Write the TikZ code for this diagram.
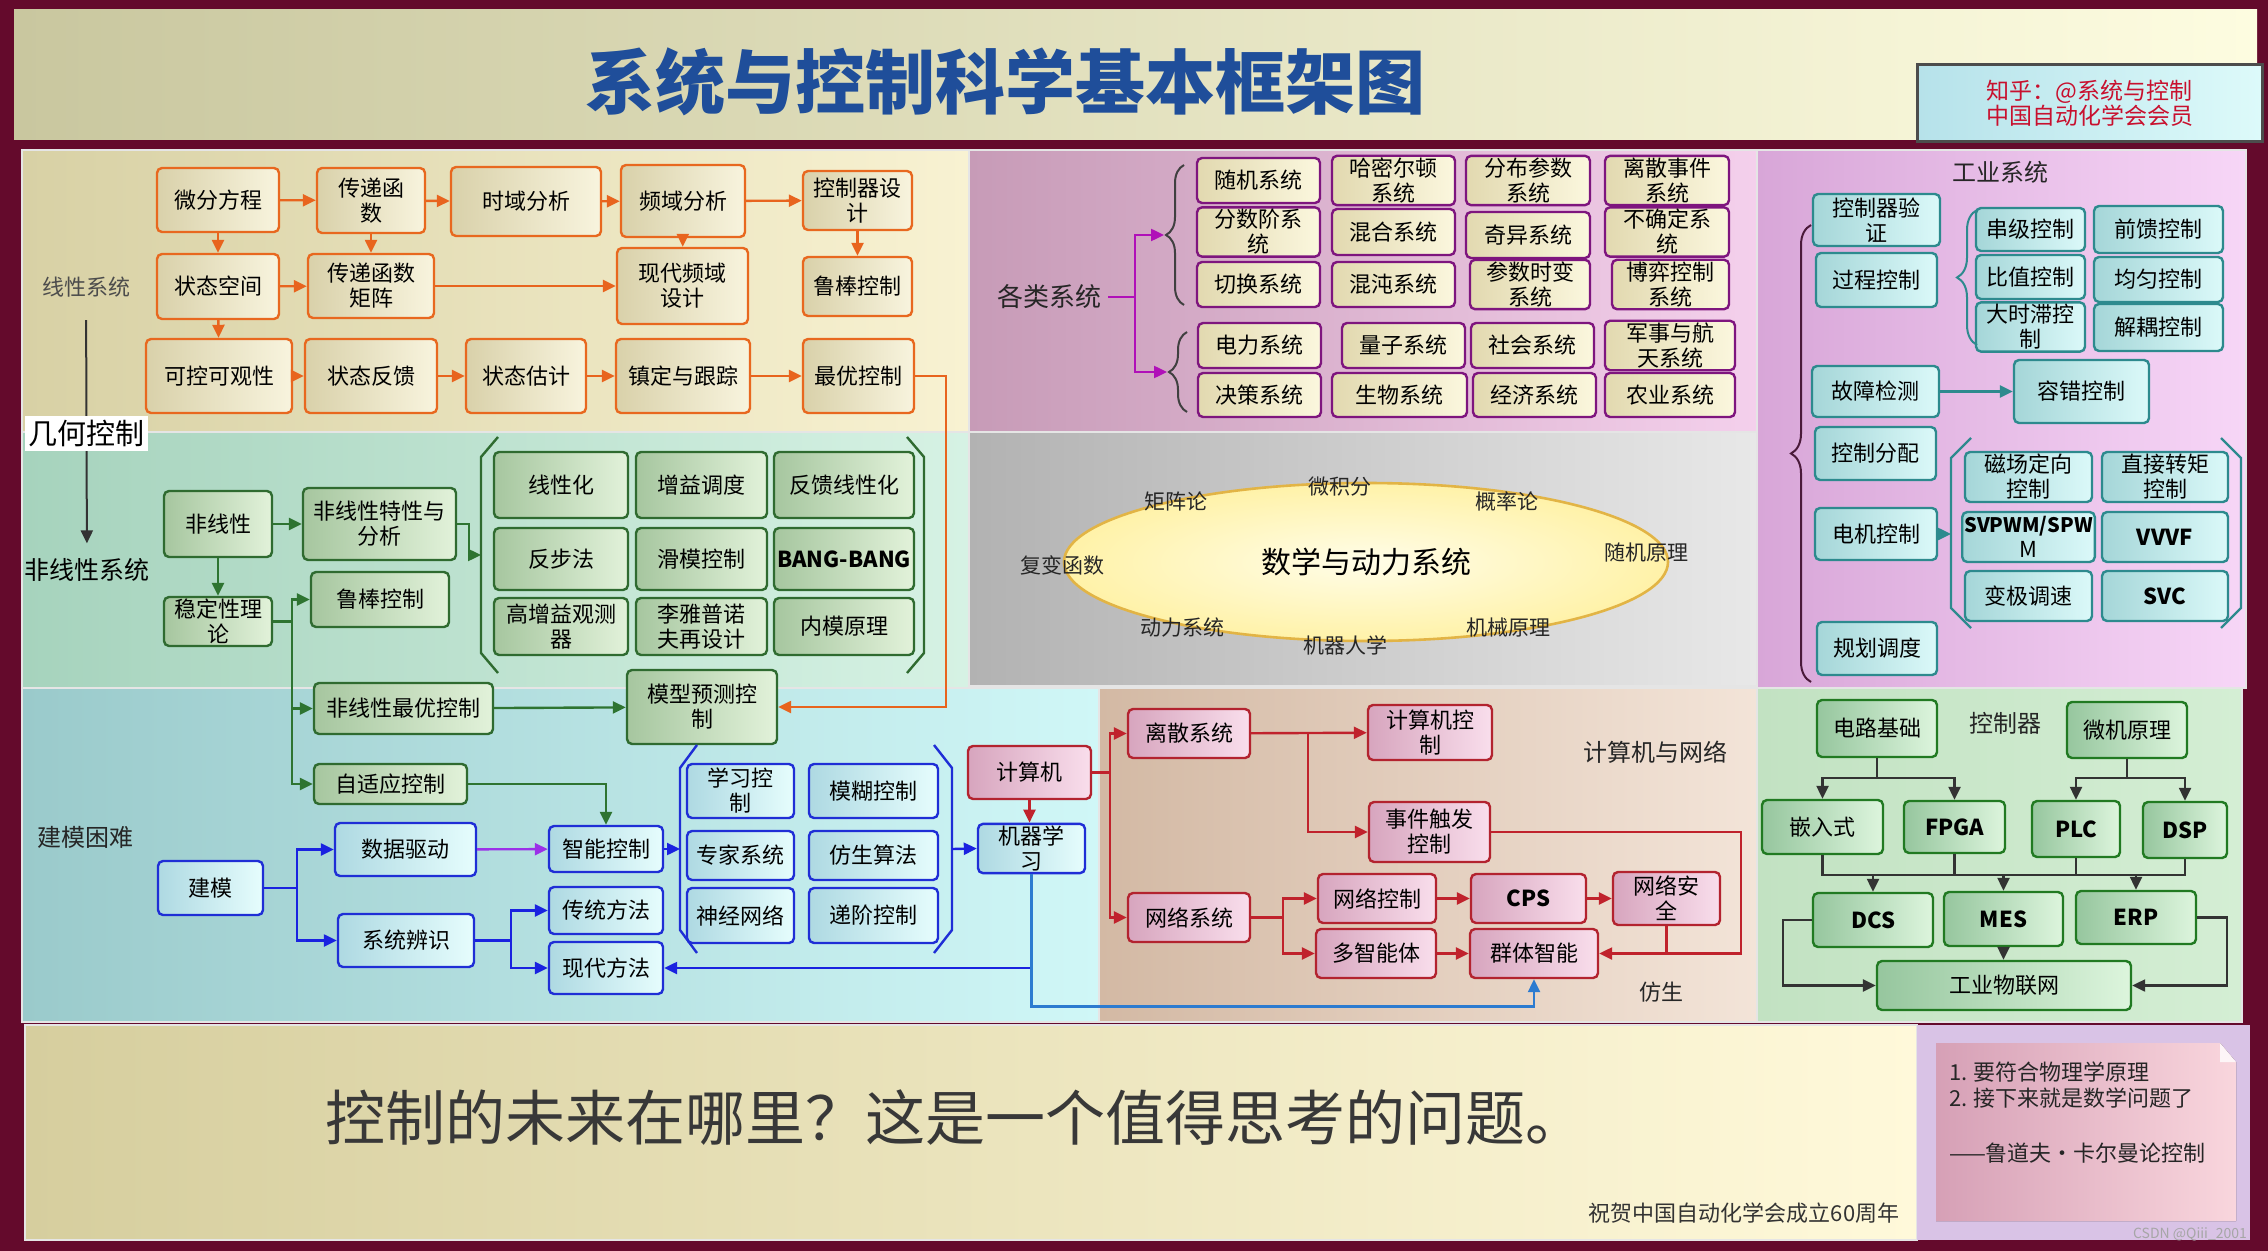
\documentclass[tikz,border=0pt]{standalone}
\usepackage{fontspec}
\setmainfont{Noto Sans CJK SC}
\usetikzlibrary{arrows.meta,shapes.geometric,decorations.pathreplacing}

\definecolor{frameRed}{HTML}{640A2C}
\definecolor{ttL}{HTML}{C9C79F}
\definecolor{ttR}{HTML}{FDFCE0}
\definecolor{titleBlue}{HTML}{1F4E9A}
\definecolor{bdL}{HTML}{B6E2EA}
\definecolor{bdR}{HTML}{DDFAFA}
\definecolor{badgeRed}{HTML}{C8102E}
\definecolor{linL}{HTML}{D8D1A5}
\definecolor{linR}{HTML}{F8F2D2}
\definecolor{nlL}{HTML}{A6D3BD}
\definecolor{nlR}{HTML}{D6F2E4}
\definecolor{mdL}{HTML}{9ACACB}
\definecolor{mdR}{HTML}{D0F7F7}
\definecolor{tyL}{HTML}{C79BB7}
\definecolor{tyR}{HTML}{F4D0EC}
\definecolor{maL}{HTML}{B2B2B2}
\definecolor{maR}{HTML}{E8E8E8}
\definecolor{cnL}{HTML}{D3B9A4}
\definecolor{cnR}{HTML}{F3E4D8}
\definecolor{inL}{HTML}{D8A6D8}
\definecolor{inR}{HTML}{F7D6F7}
\definecolor{ctL}{HTML}{C2E2C2}
\definecolor{ctR}{HTML}{D4EED4}
\definecolor{btL}{HTML}{D6CE9E}
\definecolor{btR}{HTML}{FFF9DA}
\definecolor{lav}{HTML}{D9C3E6}
\definecolor{noteL}{HTML}{D6A0B6}
\definecolor{noteR}{HTML}{F9D6DD}
\definecolor{oDraw}{HTML}{E8681F}
\definecolor{oL}{HTML}{D9D1AA}
\definecolor{oR}{HTML}{F8F4DE}
\definecolor{gDraw}{HTML}{2F6B30}
\definecolor{gL}{HTML}{A6C69F}
\definecolor{gR}{HTML}{E2F2DA}
\definecolor{bDraw}{HTML}{1F2ED6}
\definecolor{bL}{HTML}{AED9E2}
\definecolor{bR}{HTML}{E6FDFD}
\definecolor{pDraw}{HTML}{7E157E}
\definecolor{pL}{HTML}{E2D9B0}
\definecolor{pR}{HTML}{FBF7DE}
\definecolor{rDraw}{HTML}{B3232F}
\definecolor{rL}{HTML}{D7A5BE}
\definecolor{rR}{HTML}{F9DEEC}
\definecolor{tDraw}{HTML}{2D8A8E}
\definecolor{tL}{HTML}{A5D6D8}
\definecolor{tR}{HTML}{DBF9F9}
\definecolor{cDraw}{HTML}{217A22}
\definecolor{cL}{HTML}{96C69E}
\definecolor{cR}{HTML}{DDF5DD}
\definecolor{oArr}{HTML}{E8641E}
\definecolor{gArr}{HTML}{2E7431}
\definecolor{bArr}{HTML}{1A22E0}
\definecolor{pArr}{HTML}{B010B8}
\definecolor{vArr}{HTML}{9B30E8}
\definecolor{rArr}{HTML}{C0222C}
\definecolor{lbArr}{HTML}{2C7BD0}
\definecolor{kArr}{HTML}{333333}
\definecolor{elDraw}{HTML}{E2B445}
\definecolor{elIn}{HTML}{FFFDE8}
\definecolor{elOut}{HTML}{FFF2A8}
\definecolor{braceInd}{HTML}{4A1A3A}

\newcommand{\bxfont}{\fontsize{11}{12.5}\selectfont}
\newcommand{\placebox}[7]{\node[#1, minimum width={(#5-#3)*0.5pt}, minimum height={(#6-#4)*0.5pt}] (#2) at ({(#3+#5)/2},{(#4+#6)/2}) {#7};}

\begin{document}
\begin{tikzpicture}[x=0.5pt, y=-0.5pt,
    bx/.style={rectangle, rounded corners=2.5pt, line width=1.2pt, align=center, inner sep=1pt, font=\bxfont},
    obox/.style={bx, draw=oDraw, left color=oL, right color=oR},
    gbox/.style={bx, draw=gDraw, left color=gL, right color=gR},
    bbox/.style={bx, draw=bDraw, left color=bL, right color=bR},
    pbox/.style={bx, draw=pDraw, left color=pL, right color=pR},
    rbox/.style={bx, draw=rDraw, left color=rL, right color=rR},
    tbox/.style={bx, draw=tDraw, left color=tL, right color=tR},
    cbox/.style={bx, draw=cDraw, left color=cL, right color=cR},
    badge/.style={rectangle, draw=black!70, line width=1.5pt, left color=bdL, right color=bdR, align=center, text=badgeRed, font=\fontsize{11.5}{12.5}\selectfont},
    region/.style={draw=white!90!black, line width=1pt},
    lbl/.style={font=\fontsize{12}{14}\selectfont, text=black!85},
    mlbl/.style={font=\fontsize{10.5}{12}\selectfont, text=black!85},
    arr/.style={line width=1.2pt, -{Triangle[length=6.5pt,width=6pt]}},
    oarr/.style={arr, color=oArr},
    garr/.style={arr, color=gArr},
    barr/.style={arr, color=bArr},
    parr/.style={arr, color=pArr},
    varr/.style={arr, color=vArr},
    rarr/.style={arr, color=rArr},
    lbarr/.style={arr, color=lbArr},
    tarr/.style={arr, color=tDraw},
    karr/.style={arr, color=kArr},
    rline/.style={line width=1.2pt, color=rArr},
    kline/.style={line width=1.2pt, color=kArr},
    gbrk/.style={line width=1.2pt, color=gDraw},
    bbrk/.style={line width=1.2pt, color=bDraw},
    tbrk/.style={line width=1.2pt, color=tDraw},
    brc/.style={decorate, line width=1pt}
]
    \useasboundingbox (0,0) rectangle (2268,1251);
    \fill[frameRed] (0,0) rectangle (2268,1251);
    \shade[left color=ttL, right color=ttR] (14,10) rectangle (2257,140);

    \shadedraw[region, left color=linL, right color=linR] (22,150) rectangle (969,432);
    \shadedraw[region, left color=nlL, right color=nlR] (22,432) rectangle (969,688);
    \shadedraw[region, left color=mdL, right color=mdR] (22,688) rectangle (1099,1022);
    \shadedraw[region, left color=tyL, right color=tyR] (969,150) rectangle (1757,432);
    \shadedraw[region, left color=maL, right color=maR] (969,432) rectangle (1757,686);
    \shadedraw[region, left color=cnL, right color=cnR] (1099,688) rectangle (1757,1022);
    \shadedraw[region, left color=inL, right color=inR] (1757,150) rectangle (2246,688);
    \shadedraw[region, left color=ctL, right color=ctR] (1757,688) rectangle (2242,1022);
    \shadedraw[region, left color=btL, right color=btR] (25,1025) rectangle (1917,1240);
    \fill[lav] (1917,1025) rectangle (2250,1240);
    \fill[left color=noteL, right color=noteR] (1936,1043) -- (2220,1043) -- (2236,1062) -- (2236,1221) -- (1936,1221) -- cycle;
    \fill[white!75!noteR] (2220,1043) -- (2236,1062) -- (2220,1062) -- cycle;

    \node[font=\fontsize{35}{40}\selectfont\bfseries, text=titleBlue] (title) at (1005,82) {系统与控制科学基本框架图};
    \placebox{badge}{zhihu}{1917}{65}{2262}{142}{知乎：@系统与控制\\中国自动化学会会员}

    \node[lbl, font=\fontsize{11}{13}\selectfont, text=black!70] (linlbl) at (86,287) {线性系统};
    \node[lbl, font=\fontsize{12.5}{14}\selectfont, text=black] (nllbl) at (87,570) {非线性系统};
    \draw[karr, line width=1pt, shorten <=8pt, shorten >=4pt] (linlbl) -- (nllbl);
    \node[fill=white, font=\fontsize{14.5}{16}\selectfont, inner sep=1pt, minimum width=61.5pt, minimum height=17.5pt] (jhkz) at (86.5,433.5) {几何控制};
    \node[lbl] (mdlbl) at (85,837) {建模困难};
    \node[lbl, font=\fontsize{13}{15}\selectfont] (tylbl) at (1049,297) {各类系统};
    \node[lbl] (inlbl) at (2000,172) {工业系统};
    \node[lbl] (cnlbl) at (1655,752) {计算机与网络};
    \node[lbl, font=\fontsize{11}{13}\selectfont] (fslbl) at (1661,992) {仿生};
    \node[lbl] (ctlbl) at (2005,723) {控制器};

    \placebox{obox}{wffc}{157}{168}{279}{232}{微分方程}
    \placebox{obox}{cdhs}{317}{168}{425}{233}{传递函\\数}
    \placebox{obox}{syfx}{451}{167}{601}{236}{时域分析}
    \placebox{obox}{pyfx}{621}{165}{745}{237}{频域分析}
    \placebox{obox}{kzqs}{803}{171}{912}{230}{控制器设\\计}
    \placebox{obox}{ztkj}{157}{254}{279}{319}{状态空间}
    \placebox{obox}{cdjz}{308}{254}{434}{318}{传递函数\\矩阵}
    \placebox{obox}{xdpy}{617}{248}{748}{324}{现代频域\\设计}
    \placebox{obox}{lbkz}{803}{257}{912}{316}{鲁棒控制}
    \placebox{obox}{kkgc}{146}{339}{292}{413}{可控可观性}
    \placebox{obox}{ztfk}{305}{339}{437}{413}{状态反馈}
    \placebox{obox}{ztgj}{466}{339}{586}{413}{状态估计}
    \placebox{obox}{zdgz}{616}{339}{750}{413}{镇定与跟踪}
    \placebox{obox}{zykz}{803}{339}{914}{413}{最优控制}

    \draw[oarr] (wffc) -- (cdhs);
    \draw[oarr] (cdhs) -- (syfx);
    \draw[oarr] (syfx) -- (pyfx);
    \draw[oarr] (pyfx) -- (kzqs);
    \draw[oarr] (wffc) -- (ztkj);
    \draw[oarr] (cdhs) -- (cdjz);
    \draw[oarr] (pyfx) -- (xdpy);
    \draw[oarr] (kzqs) -- (lbkz);
    \draw[oarr] (ztkj) -- (cdjz);
    \draw[oarr] (cdjz) -- (xdpy);
    \draw[oarr] (ztkj) -- (kkgc);
    \draw[oarr] (kkgc) -- (ztfk);
    \draw[oarr] (ztfk) -- (ztgj);
    \draw[oarr] (ztgj) -- (zdgz);
    \draw[oarr] (zdgz) -- (zykz);

    \placebox{gbox}{fxx}{164}{491}{272}{557}{非线性}
    \placebox{gbox}{fxtx}{303}{488}{456}{560}{非线性特性与\\分析}
    \placebox{gbox}{wdx}{164}{598}{272}{645}{稳定性理\\论}
    \placebox{gbox}{nlbk}{311}{572}{449}{627}{鲁棒控制}
    \placebox{gbox}{xxh}{494}{452}{628}{518}{线性化}
    \placebox{gbox}{zytd}{636}{452}{767}{518}{增益调度}
    \placebox{gbox}{fkxx}{774}{452}{914}{518}{反馈线性化}
    \placebox{gbox}{bbf}{494}{528}{628}{590}{反步法}
    \placebox{gbox}{hmkz}{636}{528}{767}{590}{滑模控制}
    \placebox{gbox}{bang}{774}{528}{914}{590}{\bfseries BANG-BANG}
    \placebox{gbox}{gzgc}{494}{598}{628}{655}{高增益观测\\器}
    \placebox{gbox}{lypn}{636}{598}{767}{655}{李雅普诺\\夫再设计}
    \placebox{gbox}{nmyl}{774}{598}{914}{655}{内模原理}
    \placebox{gbox}{fzyk}{314}{683}{493}{734}{非线性最优控制}
    \placebox{gbox}{mxyc}{627}{670}{777}{744}{模型预测控\\制}
    \placebox{gbox}{zsyk}{314}{764}{467}{804}{自适应控制}

    \draw[gbrk] (498,437) -- (481,457) -- (481,653) -- (498,673);
    \draw[gbrk] (907,437) -- (924,457) -- (924,653) -- (907,673);
    \coordinate (nbrk) at (481,555);
    \coordinate (gj) at (292,621.5);

    \draw[garr] (fxx) -- (fxtx);
    \draw[garr] (fxx) -- (wdx);
    \draw[garr] (fxtx.east) -- ++(12,0) |- (nbrk);
    \draw[garr] (wdx.east) -- (gj) |- (nlbk.west);
    \draw[garr] (gj) |- (fzyk.west);
    \draw[garr] (gj) |- (zsyk.west);
    \draw[garr] (fzyk) -- (mxyc);
    \draw[oarr] (zykz.east) -- ++(31,0) |- (mxyc.east);

    \placebox{bbox}{jm}{158}{861}{263}{915}{建模}
    \placebox{bbox}{sjqd}{335}{823}{476}{876}{数据驱动}
    \placebox{bbox}{xtbs}{338}{914}{474}{967}{系统辨识}
    \placebox{bbox}{znkz}{549}{826}{663}{872}{智能控制}
    \placebox{bbox}{ctff}{549}{887}{663}{934}{传统方法}
    \placebox{bbox}{xdff}{549}{942}{663}{994}{现代方法}
    \placebox{bbox}{xxkz}{687}{764}{794}{818}{学习控\\制}
    \placebox{bbox}{mhkz}{809}{764}{938}{818}{模糊控制}
    \placebox{bbox}{zjxt}{687}{831}{794}{880}{专家系统}
    \placebox{bbox}{fssf}{809}{831}{938}{880}{仿生算法}
    \placebox{bbox}{sjwl}{687}{888}{794}{943}{神经网络}
    \placebox{bbox}{djkz}{809}{888}{938}{943}{递阶控制}
    \placebox{rbox}{jsj}{968}{746}{1091}{799}{计算机}
    \placebox{bbox}{jqxx}{978}{824}{1085}{873}{机器学\\习}

    \draw[bbrk] (697,745) -- (680,768) -- (680,930) -- (697,953);
    \draw[bbrk] (934,745) -- (952,768) -- (952,930) -- (934,953);
    \coordinate (mbrl) at (680,849);
    \coordinate (mbrr) at (952,849);
    \coordinate (bj1) at (297,888);
    \coordinate (bj2) at (511,940.5);

    \draw[garr] (zsyk.east) -| (znkz.north);
    \draw[barr] (jm.east) -- (bj1) |- (sjqd.west);
    \draw[barr] (bj1) |- (xtbs.west);
    \draw[varr] (sjqd) -- (znkz);
    \draw[barr] (xtbs.east) -- (bj2) |- (ctff.west);
    \draw[barr] (bj2) |- (xdff.west);
    \draw[barr] (znkz.east) -- (mbrl);
    \draw[barr] (mbrr) -- (jqxx.west);
    \draw[rarr] (jsj.south) -- (jsj.south |- jqxx.north);
    \draw[barr] (jqxx.south) |- (xdff.east);

    \placebox{rbox}{lsxt}{1128}{709}{1250}{758}{离散系统}
    \placebox{rbox}{jsjk}{1368}{705}{1492}{760}{计算机控\\制}
    \placebox{rbox}{sjcf}{1369}{802}{1490}{862}{事件触发\\控制}
    \placebox{rbox}{wlxt}{1128}{893}{1250}{942}{网络系统}
    \placebox{rbox}{wlkz}{1318}{874}{1436}{923}{网络控制}
    \placebox{rbox}{cps}{1471}{874}{1586}{923}{\bfseries CPS}
    \placebox{rbox}{wlaq}{1613}{872}{1720}{925}{网络安\\全}
    \placebox{rbox}{dznt}{1316}{929}{1436}{978}{多智能体}
    \placebox{rbox}{qtzn}{1470}{929}{1598}{978}{群体智能}

    \coordinate (rj1) at (1110,772.5);
    \coordinate (rj2) at (1308,733.5);
    \coordinate (rj3) at (1283,917.5);
    \draw[rarr] (jsj.east) -- (rj1) |- (lsxt.west);
    \draw[rarr] (rj1) |- (wlxt.west);
    \draw[rarr] (lsxt) -- (jsjk);
    \draw[rarr] (rj2) |- (sjcf.west);
    \draw[rarr] (sjcf.east) -- ++(250,0) |- (qtzn.east);
    \draw[rline] (wlaq.south) -- (wlaq.south |- qtzn.east);
    \draw[rarr] (wlxt.east) -- (rj3) |- (wlkz.west);
    \draw[rarr] (rj3) |- (dznt.west);
    \draw[rarr] (wlkz) -- (cps);
    \draw[rarr] (cps) -- (wlaq);
    \draw[rarr] (dznt) -- (qtzn);
    \draw[lbarr] (jqxx.south) -- ++(0,132) -| (qtzn.south);

    \placebox{pbox}{sjxt}{1197}{158}{1320}{203}{随机系统}
    \placebox{pbox}{hmde}{1332}{158}{1455}{203}{哈密尔顿\\系统}
    \placebox{pbox}{fbcs}{1466}{158}{1590}{203}{分布参数\\系统}
    \placebox{pbox}{lssj}{1605}{158}{1729}{203}{离散事件\\系统}
    \placebox{pbox}{fsjx}{1197}{209}{1320}{255}{分数阶系\\统}
    \placebox{pbox}{hhxt}{1332}{209}{1455}{255}{混合系统}
    \placebox{pbox}{qyxt}{1466}{212}{1590}{258}{奇异系统}
    \placebox{pbox}{bqdx}{1605}{209}{1729}{255}{不确定系\\统}
    \placebox{pbox}{qhxt}{1197}{262}{1320}{307}{切换系统}
    \placebox{pbox}{hdxt}{1332}{262}{1455}{307}{混沌系统}
    \placebox{pbox}{cssb}{1470}{262}{1590}{307}{参数时变\\系统}
    \placebox{pbox}{byxt}{1612}{262}{1729}{307}{博弈控制\\系统}
    \placebox{pbox}{dlxt}{1198}{323}{1321}{368}{电力系统}
    \placebox{pbox}{lzxt}{1342}{323}{1465}{368}{量子系统}
    \placebox{pbox}{shxt}{1471}{323}{1594}{368}{社会系统}
    \placebox{pbox}{jsht}{1605}{323}{1735}{368}{军事与航\\天系统}
    \placebox{pbox}{jcxt}{1198}{373}{1321}{417}{决策系统}
    \placebox{pbox}{swxt}{1332}{373}{1467}{417}{生物系统}
    \placebox{pbox}{jjxt}{1473}{373}{1596}{417}{经济系统}
    \placebox{pbox}{nyxt}{1605}{373}{1735}{417}{农业系统}

    \draw[brc, color=black!75, decoration={brace, amplitude=9pt}] (1184,305) -- (1184,165);
    \draw[brc, color=black!75, decoration={brace, amplitude=9pt}] (1187,412) -- (1187,332);
    \coordinate (ubr) at (1164,235);
    \coordinate (lbr) at (1167,372);
    \coordinate (tj) at (1135,297);
    \draw[parr] (tylbl.east) -- (tj) |- (ubr);
    \draw[parr] (tj) |- (lbr);

    \node[ellipse, draw=elDraw, line width=1.3pt, inner color=elIn, outer color=elOut, minimum width=302pt, minimum height=79pt, font=\fontsize{15}{18}\selectfont] (math) at (1366,562) {数学与动力系统};
    \node[mlbl] (wjf) at (1340,487) {微积分};
    \node[mlbl] (jzl) at (1176,501) {矩阵论};
    \node[mlbl] (gll) at (1507,501) {概率论};
    \node[mlbl] (fbhs) at (1062,565) {复变函数};
    \node[mlbl] (sjyl) at (1646,553) {随机原理};
    \node[mlbl] (dlxt2) at (1182,628) {动力系统};
    \node[mlbl] (jqrx) at (1345,645) {机器人学};
    \node[mlbl] (jxyl) at (1508,628) {机械原理};

    \placebox{tbox}{kzyz}{1813}{194}{1940}{246}{控制器验\\证}
    \placebox{tbox}{gckz}{1816}{253}{1937}{307}{过程控制}
    \placebox{tbox}{cjkz}{1976}{208}{2085}{251}{串级控制}
    \placebox{tbox}{qkkz}{2094}{206}{2223}{253}{前馈控制}
    \placebox{tbox}{bzkz}{1976}{255}{2085}{299}{比值控制}
    \placebox{tbox}{jykz}{2094}{257}{2223}{302}{均匀控制}
    \placebox{tbox}{dszk}{1976}{303}{2085}{351}{大时滞控\\制}
    \placebox{tbox}{jokz}{2094}{304}{2223}{351}{解耦控制}
    \placebox{tbox}{gzjc}{1812}{366}{1939}{417}{故障检测}
    \placebox{tbox}{rckz}{2014}{360}{2149}{423}{容错控制}
    \placebox{tbox}{kzfp}{1815}{427}{1936}{480}{控制分配}
    \placebox{tbox}{djkz2}{1815}{508}{1937}{560}{电机控制}
    \placebox{tbox}{ghdd}{1817}{622}{1937}{675}{规划调度}
    \placebox{tbox}{ccdx}{1965}{452}{2092}{502}{磁场定向\\控制}
    \placebox{tbox}{zjzj}{2102}{452}{2228}{502}{直接转矩\\控制}
    \placebox{tbox}{svpw}{1965}{512}{2092}{562}{\fontsize{10}{11.5}\selectfont\bfseries SVPWM/SPW\\M}
    \placebox{tbox}{vvvf}{2102}{512}{2228}{562}{\bfseries VVVF}
    \placebox{tbox}{jbts}{1965}{571}{2092}{621}{变极调速}
    \placebox{tbox}{svc}{2102}{571}{2228}{621}{\bfseries SVC}

    \draw[brc, color=tDraw, decoration={brace, amplitude=10pt}] (1977,345) -- (1977,210);
    \draw[brc, color=braceInd, decoration={brace, amplitude=10pt}] (1811,682) -- (1811,225);
    \draw[tbrk] (1971,438) -- (1951,458) -- (1951,608) -- (1971,628);
    \draw[tbrk] (2221,438) -- (2241,458) -- (2241,608) -- (2221,628);
    \coordinate (mtb) at (1951,534);
    \draw[tarr] (djkz2) -- (mtb);
    \draw[tarr] (gzjc) -- (rckz);

    \placebox{cbox}{dljc}{1817}{700}{1937}{757}{电路基础}
    \placebox{cbox}{wjyl}{2067}{702}{2187}{758}{微机原理}
    \placebox{cbox}{qrs}{1762}{800}{1883}{854}{嵌入式}
    \placebox{cbox}{fpga}{1904}{801}{2005}{853}{\bfseries FPGA}
    \placebox{cbox}{plc}{2032}{801}{2120}{857}{\bfseries PLC}
    \placebox{cbox}{dsp}{2143}{802}{2227}{858}{\bfseries DSP}
    \placebox{cbox}{dcs}{1813}{893}{1933}{947}{\bfseries DCS}
    \placebox{cbox}{mes}{1944}{892}{2063}{946}{\bfseries MES}
    \placebox{cbox}{erp}{2076}{891}{2196}{944}{\bfseries ERP}
    \placebox{cbox}{gywl}{1877}{961}{2131}{1010}{工业物联网}

    \coordinate (cj1) at (1877,778);
    \coordinate (cj2) at (2127,778);
    \coordinate (cbus) at (2000,875);
    \draw[kline] (dljc.south) -- (cj1);
    \draw[karr] (cj1) -| (qrs.north);
    \draw[karr] (cj1) -| (fpga.north);
    \draw[kline] (wjyl.south) -- (cj2);
    \draw[karr] (cj2) -| (plc.north);
    \draw[karr] (cj2) -| (dsp.north);
    \draw[kline] (qrs.south) |- (cbus) -| (dsp.south);
    \draw[kline] (fpga.south) -- (fpga.south |- cbus);
    \draw[kline] (plc.south) -- (plc.south |- cbus);
    \draw[karr] (dcs.north |- cbus) -- (dcs.north);
    \draw[karr] (mes.north |- cbus) -- (mes.north);
    \draw[karr] (erp.north |- cbus) -- (erp.north);
    \draw[karr] (dcs.west) -- ++(-29,0) |- (gywl.west);
    \draw[karr] (erp.east) -- ++(30,0) |- (gywl.east);
    \draw[karr] (mes.south) -- (mes.south |- gywl.north);

    \node[font=\fontsize{30}{34}\selectfont, text=black!78] (future) at (955,1118) {控制的未来在哪里？这是一个值得思考的问题。};
    \node[font=\fontsize{11}{13}\selectfont, text=black!80] (zhuhe) at (1744,1213) {祝贺中国自动化学会成立60周年};
    \node[anchor=west, font=\fontsize{11}{13}\selectfont, text=black!85] (nt1) at (1942,1072) {1. 要符合物理学原理};
    \node[anchor=west, font=\fontsize{11}{13}\selectfont, text=black!85] (nt2) at (1942,1098) {2. 接下来就是数学问题了};
    \node[anchor=west, font=\fontsize{11}{13}\selectfont, text=black!85] (nt3) at (1942,1153) {——鲁道夫·卡尔曼论控制};
    \node[font=\fontsize{7}{8}\selectfont, text=black!35] (csdn) at (2190,1234) {CSDN @Qiii\_2001};
\end{tikzpicture}
\end{document}
